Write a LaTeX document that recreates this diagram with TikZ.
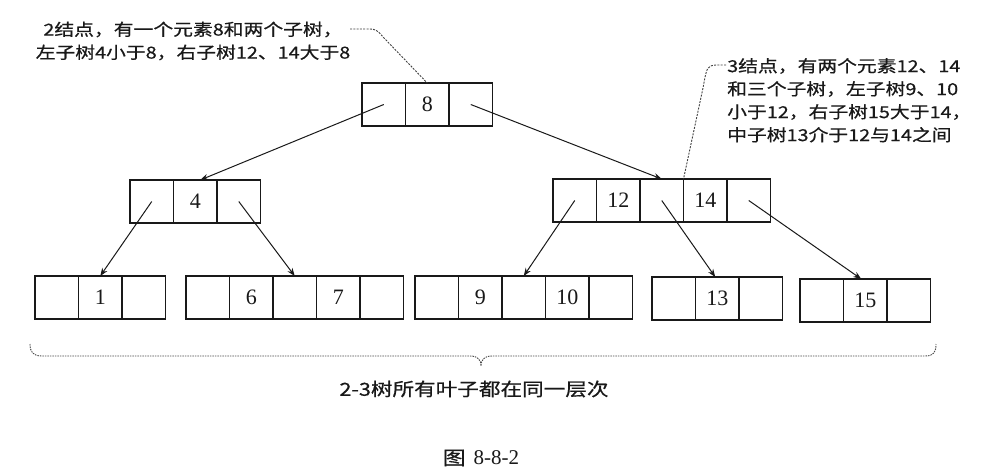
\documentclass[tikz,border=0pt]{standalone}
\usepackage{fontspec}
\setmainfont{Liberation Serif}
\newfontfamily\cjk[FakeStretch=1.2,FakeBold=0.6]{Noto Sans CJK SC}
\usetikzlibrary{arrows.meta}
\begin{document}
\begin{tikzpicture}[x=1pt,y=-1pt,
  cell/.style={draw=black!90, line width=1.3pt, minimum width=43.5pt, minimum height=43pt,
    inner sep=0pt, outer sep=0pt, font=\fontsize{22}{22}\selectfont, text=black!90},
  link/.style={line width=1pt, draw=black!90, -{Stealth[length=8pt,width=6pt]}},
  leader/.style={line width=0.9pt, draw=black!75, dash pattern=on 2pt off 1.3pt},
  note/.style={font=\cjk\fontsize{16.5}{23}\selectfont, inner sep=0pt, text=black!90},
  bracestyle/.style={line width=0.9pt, draw=black!70, dash pattern=on 1.5pt off 1pt}]
\fill[white] (0,0) rectangle (988,474);
\useasboundingbox (0,0) rectangle (988,474);

% root
\node[cell, anchor=north west] (r1) at (362,83) {};
\node[cell, anchor=west] (r2) at (r1.east) {8};
\node[cell, anchor=west] (r3) at (r2.east) {};

% node 4
\node[cell, anchor=north west] (a1) at (130,180) {};
\node[cell, anchor=west] (a2) at (a1.east) {4};
\node[cell, anchor=west] (a3) at (a2.east) {};

% node 12 14
\node[cell, anchor=north west] (b1) at (553,179) {};
\node[cell, anchor=west] (b2) at (b1.east) {12};
\node[cell, anchor=west] (b3) at (b2.east) {};
\node[cell, anchor=west] (b4) at (b3.east) {14};
\node[cell, anchor=west] (b5) at (b4.east) {};

% leaf 1
\node[cell, anchor=north west] (c1) at (35,276) {};
\node[cell, anchor=west] (c2) at (c1.east) {1};
\node[cell, anchor=west] (c3) at (c2.east) {};

% leaf 6 7
\node[cell, anchor=north west] (d1) at (186,276) {};
\node[cell, anchor=west] (d2) at (d1.east) {6};
\node[cell, anchor=west] (d3) at (d2.east) {};
\node[cell, anchor=west] (d4) at (d3.east) {7};
\node[cell, anchor=west] (d5) at (d4.east) {};

% leaf 9 10
\node[cell, anchor=north west] (e1) at (415,276) {};
\node[cell, anchor=west] (e2) at (e1.east) {9};
\node[cell, anchor=west] (e3) at (e2.east) {};
\node[cell, anchor=west] (e4) at (e3.east) {10};
\node[cell, anchor=west] (e5) at (e4.east) {};

% leaf 13
\node[cell, anchor=north west] (f1) at (652,277) {};
\node[cell, anchor=west] (f2) at (f1.east) {13};
\node[cell, anchor=west] (f3) at (f2.east) {};

% leaf 15
\node[cell, anchor=north west] (g1) at (800,279) {};
\node[cell, anchor=west] (g2) at (g1.east) {15};
\node[cell, anchor=west] (g3) at (g2.east) {};

% links
\draw[link] (r1.center) -- ([xshift=5pt]a2.north);
\draw[link] (r3.center) -- (b3.north);
\draw[link] (a1.center) -- (c2.north);
\draw[link] (a3.center) -- (d3.north);
\draw[link] (b1.center) -- (e3.north);
\draw[link] (b3.center) -- ([xshift=-2pt]f2.north);
\draw[link] (b5.center) -- ([xshift=-4pt]g2.north);

% annotations
\node[note, align=center] (n1) at (193,41) {2结点，有一个元素8和两个子树，\\左子树4小于8，右子树12、14大于8};
\node[note, align=left, anchor=north west] (n2) at (727,58) {3结点，有两个元素12、14\\和三个子树，左子树9、10\\小于12，右子树15大于14，\\中子树13介于12与14之间};

\coordinate (la) at (350,29);
\coordinate (lb) at (367,29);
\coordinate (lc) at (384,38);
\draw[leader] (la) -- (lb) .. controls (376,29) .. (lc) -- (r2.north);

\coordinate (ra) at (726,65);
\coordinate (rb) at (716,65);
\coordinate (rc) at (703,88);
\draw[leader] (ra) -- (rb) .. controls (707,66) .. (rc) -- (b3.north east);

% brace
\draw[bracestyle] (30,344) .. controls (30,352) and (33,356) .. (42,356) -- (470,356)
  .. controls (478,356) and (481,360) .. (481,366)
  .. controls (481,360) and (484,356) .. (492,356) -- (925,356)
  .. controls (934,356) and (936,352) .. (936,344);

\node[font=\cjk\fontsize{18}{18}\selectfont, text=black!90, inner sep=0pt] (lvl) at (474,389) {2-3树所有叶子都在同一层次};
\node[inner sep=0pt, text=black!90] (cap) at (481,458) {{\cjk\fontsize{19}{19}\selectfont 图}\hspace{8pt}{\fontsize{21}{21}\selectfont 8-8-2}};
\end{tikzpicture}
\end{document}
